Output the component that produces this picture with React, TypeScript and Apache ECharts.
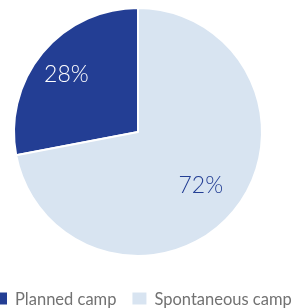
import React, { useEffect, useRef } from "react";
import * as echarts from "echarts";

const categories = ["Planned camp", "Spontaneous camp"];
const values = [28, 72];
const colors = ["#233e94", "#d8e4f1"];
const labelColors = ["#ffffff", "#233e94"];

const SHIFT = 7;
const CX = 138 + SHIFT;

export default function App() {
  const ref = useRef<HTMLDivElement>(null);
  useEffect(() => {
    if (!ref.current) return;
    const chart = echarts.init(ref.current, null, { renderer: "svg" });
    const base = categories.map((name, i) => ({
      name,
      value: values[i],
      itemStyle: { color: colors[i] },
    }));
    const labelSeries = (idx: number, r0: number) => ({
      type: "pie",
      center: [CX, 132],
      radius: [r0, 124],
      clockwise: false,
      startAngle: 90,
      silent: true,
      legendHoverLink: false,
      itemStyle: { color: "rgba(0,0,0,0)", borderWidth: 0 },
      labelLine: { show: false },
      data: categories.map((name, i) => ({
        name,
        value: values[i],
        itemStyle: { color: "rgba(0,0,0,0)" },
        label: {
          show: i === idx,
          position: "inside",
          formatter: "{c}%",
          color: labelColors[i],
          fontSize: 23,
          fontFamily: "Lato",
          fontWeight: 300,
        },
      })),
    });
    chart.setOption({
      animation: false,
      legend: {
        data: categories,
        left: 0,
        bottom: 1,
        width: 400,
        padding: 0,
        itemWidth: 14,
        itemHeight: 12,
        itemGap: 16,
        icon: "rect",
        itemStyle: { borderWidth: 0 },
        textStyle: {
          color: "#727272",
          fontSize: 16.5,
          fontFamily: "Lato",
          lineHeight: 16,
          padding: [0, 0, 0, 3],
        },
      },
      series: [
        {
          type: "pie",
          center: [CX, 132],
          radius: [0, 124],
          clockwise: false,
          startAngle: 90,
          silent: true,
          label: { show: false },
          labelLine: { show: false },
          itemStyle: { borderColor: "#ffffff", borderWidth: 2 },
          data: base,
        },
        labelSeries(0, 56),
        labelSeries(1, 33),
      ],
    });
    return () => chart.dispose();
  }, []);
  return (
    <div
      ref={ref}
      style={{ position: "fixed", top: 0, left: -SHIFT, width: 293 + SHIFT, height: 308 }}
    />
  );
}
